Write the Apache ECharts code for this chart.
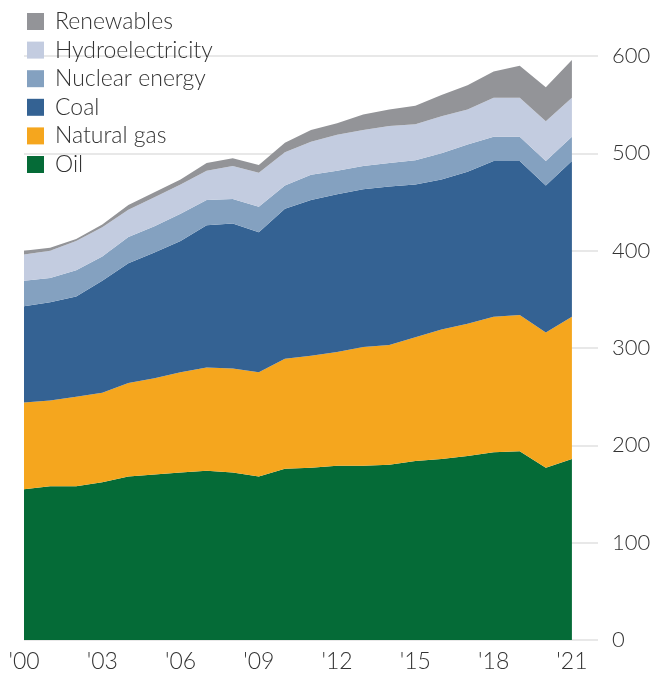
<!DOCTYPE html>
<html>
<head>
<meta charset="utf-8">
<script src="https://cdn.jsdelivr.net/npm/echarts@6/dist/echarts.min.js"></script>
<style>
	html, body { margin: 0; padding: 0; background: #fff; }
	#chart { width: 654px; height: 673px; }
</style>
</head>
<body>
<div id="chart"></div>
<script>
'use strict';
// one spare slot after '21 so the grid lines run on past the last year
var categories = ["'00", "'01", "'02", "'03", "'04", "'05", "'06", "'07", "'08", "'09", "'10",
	"'11", "'12", "'13", "'14", "'15", "'16", "'17", "'18", "'19", "'20", "'21", ""];
var oil = [155, 158, 158, 162, 168, 170, 172, 174, 172, 168, 176, 177, 179, 179, 180, 184, 186, 189, 193, 194, 177, 186];
var naturalGas = [89, 88, 92, 92, 96, 99, 103, 106, 107, 107, 113, 115, 117, 122, 123, 127, 133, 136, 139, 140, 139, 146];
var coal = [99, 101, 103, 115, 123, 129, 135, 146, 149, 144, 154, 160, 162, 162, 163, 157, 154, 156, 160, 158, 151, 160];
var nuclear = [26, 25, 27, 25, 27, 27, 28, 26, 25, 26, 24, 26, 24, 24, 24, 25, 27, 28, 25, 25, 25, 25];
var hydro = [27, 28, 30, 30, 28, 30, 30, 30, 34, 35, 34, 34, 37, 37, 38, 37, 38, 36, 40, 40, 41, 40];
var renewables = [4, 3, 2, 3, 5, 5, 5, 8, 8, 8, 10, 12, 12, 16, 17, 19, 22, 25, 27, 33, 35, 39];
var yTicks = [0, 100, 200, 300, 400, 500, 600];

var font = 'Lato';
var textColor = '#333';

function areaSeries(name, values, color) {
	return {
		name: name,
		type: 'line',
		stack: 'total',
		symbol: 'none',
		data: values,
		lineStyle: { width: 0 },
		areaStyle: { color: color, opacity: 1 },
		itemStyle: { color: color }
	};
}

var myChart = echarts.init(document.getElementById('chart'));
var option = {
	animation: false,
	legend: {
		orient: 'vertical',
		left: 22,
		top: 5,
		itemWidth: 17,
		itemHeight: 17,
		itemGap: 5.6,
		icon: 'rect',
		data: ['Renewables', 'Hydroelectricity', 'Nuclear energy', 'Coal', 'Natural gas', 'Oil'],
		textStyle: {
			fontFamily: font,
			fontWeight: 300,
			fontSize: 23,
			color: textColor,
			padding: [0, 0, 0, 6]
		}
	},
	grid: {
		left: 24,
		right: 56,
		top: 56,
		bottom: 33,
		containLabel: false
	},
	xAxis: {
		type: 'category',
		boundaryGap: false,
		data: categories,
		axisLine: { show: false },
		axisTick: { show: false },
		splitLine: { show: false },
		axisLabel: {
			interval: 2,
			margin: 10,
			fontFamily: font,
			fontWeight: 300,
			fontSize: 23,
			color: textColor
		}
	},
	yAxis: {
		type: 'value',
		position: 'right',
		min: yTicks[0],
		max: yTicks[yTicks.length - 1],
		interval: 100,
		axisLine: { show: false },
		axisTick: { show: false },
		splitLine: { lineStyle: { color: '#e8e8e8', width: 2 } },
		axisLabel: {
			margin: 14,
			fontFamily: font,
			fontWeight: 300,
			fontSize: 22,
			color: textColor
		}
	},
	series: [
		areaSeries('Oil', oil, '#056b37'),
		areaSeries('Natural gas', naturalGas, '#f5a61e'),
		areaSeries('Coal', coal, '#346293'),
		areaSeries('Nuclear energy', nuclear, '#84a1c0'),
		areaSeries('Hydroelectricity', hydro, '#c3cce0'),
		areaSeries('Renewables', renewables, '#939498')
	]
};
myChart.setOption(option);
</script>
</body>
</html>
